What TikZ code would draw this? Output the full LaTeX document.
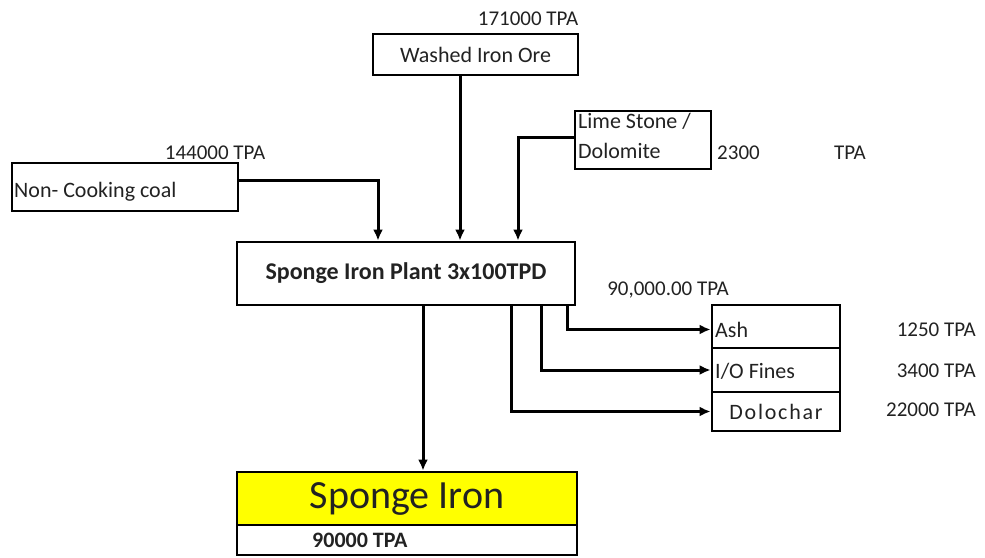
\documentclass[tikz,border=0pt]{standalone}
\usepackage{fontspec}
\setmainfont{Carlito}
\usetikzlibrary{arrows.meta}
\definecolor{txt}{HTML}{222222}
\definecolor{yel}{HTML}{FFFF00}
\tikzset{
  box/.style={draw=black, line width=2.8pt, inner sep=0pt, font=\fontsize{22}{26}\selectfont, text=txt},
  lbl/.style={inner sep=0pt, font=\fontsize{21}{25}\selectfont, text=txt},
  arr/.style={draw=black, line width=3pt, -{Latex[length=11pt,width=10pt]}},
}
\begin{document}
\begin{tikzpicture}[x=1pt,y=-1pt]
\useasboundingbox (0,0) rectangle (985,557);
% boxes
\node[box, minimum width=205pt, minimum height=41pt] (washed) at (475.5,54.5) {Washed Iron Ore};
\node[box, minimum width=136pt, minimum height=58pt] (lime) at (643,140) {};
\node[lbl, anchor=west, align=left, font=\fontsize{22}{30}\selectfont] at (578,136) {Lime Stone /\\Dolomite};
\node[box, minimum width=226pt, minimum height=48pt] (coal) at (125,187) {};
\node[lbl, anchor=west, font=\fontsize{22}{26}\selectfont] at (14,192) {Non- Cooking coal};
\node[box, minimum width=338pt, minimum height=63pt, font=\fontsize{24}{28}\selectfont\bfseries] (plant) at (406,273.5) {Sponge Iron Plant 3x100TPD};
\node[box, minimum width=128pt, minimum height=43pt] (ash) at (776,326.5) {};
\node[box, minimum width=128pt, minimum height=44pt] (io) at (776,370) {};
\node[box, minimum width=128pt, minimum height=39pt] (dolo) at (776,411.5) {\addfontfeature{LetterSpace=8}Dolochar};
\node[lbl, anchor=west, font=\fontsize{22}{26}\selectfont] at (715,330) {Ash};
\node[lbl, anchor=west, font=\fontsize{22}{26}\selectfont] at (715,371) {I/O Fines};
\node[box, fill=yel, minimum width=340pt, minimum height=53pt, font=\fontsize{40}{44}\selectfont] (sponge) at (407,498.5) {Sponge Iron};
\node[box, minimum width=340pt, minimum height=30pt] (spongeq) at (407,540) {};
\node[lbl, anchor=west, font=\fontsize{22}{26}\selectfont\bfseries] at (312,540) {90000 TPA};
% quantity labels
\node[lbl] at (528,19) {171000 TPA};
\node[lbl] at (215,153) {144000 TPA};
\node[lbl, anchor=west] at (717,153) {2300};
\node[lbl] at (850,153) {TPA};
\node[lbl] at (668,290) {90,000.00 TPA};
\node[lbl, anchor=east] at (976,330) {1250 TPA};
\node[lbl, anchor=east] at (976,371) {3400 TPA};
\node[lbl, anchor=east] at (976,410) {22000 TPA};
% connectors
\draw[arr] ([yshift=7pt]coal.east) -| ([xshift=-28pt]plant.north);
\draw[arr] ([xshift=-15.5pt]washed.south) -- ([xshift=-15.5pt]washed.south |- plant.north);
\draw[arr] ([yshift=3pt]lime.west) -| ([xshift=112pt]plant.north);
\draw[arr] ([xshift=161pt]plant.south) |- ([yshift=-3pt]ash.west);
\draw[arr] ([xshift=135pt]plant.south) |- (io.west);
\draw[arr] ([xshift=105pt]plant.south) |- (dolo.west);
\draw[arr] ([xshift=17pt]plant.south) -- ([xshift=16pt]sponge.north);
\end{tikzpicture}
\end{document}
